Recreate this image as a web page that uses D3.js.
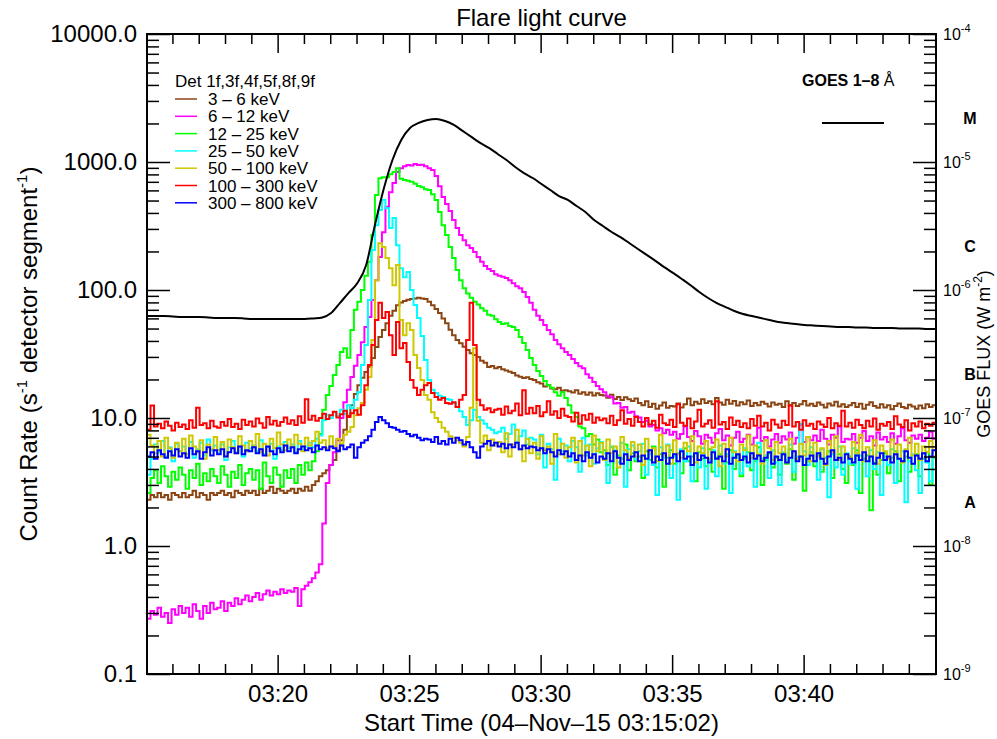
<!DOCTYPE html>
<html>
<head>
<meta charset="utf-8">
<script src="https://cdn.jsdelivr.net/npm/d3@7"></script>
<style>
  body { margin: 0; background: #fff; }
  text { font-family: "Liberation Sans", Arial, Helvetica, sans-serif; fill: #000; }
</style>
</head>
<body>
<svg id="chart" width="997" height="739"></svg>
<script>
// ---- Time base ---------------------------------------------------------
const startTime = "2015-11-04T03:15:02Z";
const spanSeconds = 1800;
const binSeconds = 8;        // count-rate accumulation interval
const goesStepSeconds = 20;  // GOES sample spacing

// ---- Energy bands ------------------------------------------------------
const detectorLabel = "Det 1f,3f,4f,5f,8f,9f";
const bandLabels = ["3 – 6 keV", "6 – 12 keV", "12 – 25 keV", "25 – 50 keV",
                    "50 – 100 keV", "100 – 300 keV", "300 – 800 keV"];
const bandColors = ["#8b4513", "#ff00ff", "#00ff00", "#00ffff",
                    "#cfc800", "#ff0000", "#0000ff"];

// ---- Count rates (s^-1 detector segment^-1), one value per 8 s bin ------
const rate3to6 = [
  2.3,2.5,2.4,2.6,2.4,2.5,2.3,2.6,2.5,2.4, 2.6,2.4,2.5,2.7,2.4,2.6,2.5,2.3,2.6,2.5,
  2.6,2.7,2.5,2.6,2.4,2.7,2.6,2.5,2.7,2.6, 2.7,2.5,2.8,2.6,2.7,2.9,2.6,2.8,2.7,2.6,
  2.7,2.8,2.6,2.8,2.7,2.9,2.7,3.0,3.2,3.5, 3.7,3.9,4.3,4.7,5.6,6.7,8.1,10.4,12.6,15.4,
  18.0,20.6,22.9,25.1,29.4,35.9,42.9,48.7,55.0,62.9, 69,76,80,82,84,85,86,87,86,85,
  81,76,71,66,60,55,49,44.4,40.7,38.4, 36,34,32,31,30,28,27,25,25.5,24.5,
  25,24,23.5,23,22.5,21.5,21,20.5,20.8,20.2, 19.8,19.0,18.6,17.6,18.0,17.0,16.8,17.2,16.3,16.5,
  16.2,15.8,16.5,15.5,15.9,15.2,15.8,15.0,15.6,15.1, 15.0,14.4,15.2,14.1,14.6,13.8,14.5,14.0,13.6,14.2,
  13.1,12.6,13.5,12.2,12.9,11.8,12.5,13.2,12.0,12.4, 12.3,13.0,12.1,12.8,14.2,12.6,13.4,12.9,14.0,13.1,
  13.5,12.8,14.3,13.2,12.7,13.9,12.9,13.6,12.5,13.3, 12.8,13.7,12.4,13.1,12.6,13.4,12.9,12.3,13.2,12.7,
  12.9,12.2,13.5,12.6,13.1,12.4,12.8,13.6,12.5,12.9, 12.4,13.2,12.7,12.1,13.0,12.5,13.4,12.3,12.8,12.2,
  12.6,13.1,12.2,12.9,11.8,12.7,13.3,12.4,12.0,12.8, 12.1,12.6,11.7,12.4,13.0,12.2,11.9,12.7,12.3,11.8,
  12.5,11.9,12.8,12.2,12.6
];
const rate6to12 = [
  0.27,0.31,0.29,0.33,0.28,0.30,0.25,0.32,0.29,0.34, 0.30,0.33,0.28,0.35,0.31,0.27,0.34,0.30,0.36,0.32,
  0.33,0.37,0.31,0.36,0.34,0.39,0.35,0.38,0.41,0.37, 0.40,0.43,0.38,0.42,0.45,0.41,0.44,0.42,0.46,0.43,
  0.45,0.44,0.47,0.34,0.46,0.49,0.52,0.56,0.62,0.72, 1.5,3.1,4.3,5.4,6.7,10.0,13.3,16.6,20.9,25.6,
  31,39,51.5,61.5,83.6,119,181,282,447,580, 684,834,895,928,946,940,963,946,950,928,
  895,866,778,647,533,470,414,352,305,269, 245,224,213,198,181,166,154,146,141,133,
  129,127,124,119,113,107,103,96.5,88,79.4, 70,62.9,58.2,53.2,48.7,45.2,40.7,37.7,35.1,32.8,
  31.0,28.9,26.9,25.4,24.5,22.0,20.6,19.1,17.8,16.8, 15.9,14.8,14.5,13.0,13.1,12.0,12.2,11.0,11.2,10.3,
  10.1,9.3,9.5,8.6,8.8,8.0,8.3,7.6,8.1,7.4, 7.8,6.9,7.5,8.6,7.1,6.6,7.9,7.2,6.3,7.4,
  7.0,6.4,7.6,8.2,6.7,7.3,6.1,7.0,7.8,6.5, 6.9,7.4,6.2,7.0,8.4,6.6,7.1,6.0,6.8,7.5,
  6.4,7.2,6.8,7.7,6.3,7.0,8.9,6.5,7.1,6.7, 7.3,6.6,8.1,6.9,6.2,7.4,7.0,8.6,6.5,6.9,
  6.8,7.5,6.4,7.0,7.9,6.6,7.2,6.1,7.7,6.8, 7.1,6.5,7.6,6.3,7.2,8.3,6.7,6.4,7.3,6.9,
  7.4,6.6,7.0,7.8,6.9
];
const rate12to25 = [
  2.6,3.4,3.9,3.1,4.2,3.5,2.9,3.8,3.3,4.1, 3.6,2.8,3.9,3.4,4.4,3.0,3.7,3.2,4.0,3.5,
  3.1,4.2,3.6,2.9,3.8,3.4,4.3,3.0,3.7,4.0, 3.3,3.9,2.8,4.5,3.5,3.1,4.1,3.6,2.9,3.9,
  3.4,4.0,3.1,4.3,3.6,4.5,3.9,4.6,5.5,7.5, 11.6,15.1,17.8,21.7,25.9,32.8,35.1,29.5,48.7,70,
  81,100,129,166,269,552,745,760,760,802, 834,895,740,725,715,700,675,650,635,612,
  603,560,504,407,321,269,217,178,143,119, 103,94,87,81,77,72,69,64,63,59,
  56.3,54.3,55.1,52.4,51.5,48.7,42.9,38.5,34.0,29.4, 25.9,23.3,21.3,19.5,18.0,17.2,15.9,14.9,15.9,14.3,
  12.6,11.0,10.2,8.6,8.3,7.2,7.5,6.2,6.8,5.4, 5.6,4.3,5.9,3.6,5.1,4.8,6.2,3.9,5.3,4.6,
  5.0,3.4,5.5,4.7,6.0,4.1,5.2,2.9,4.9,5.6, 4.4,5.3,3.7,5.8,4.6,5.0,3.2,5.4,4.8,4.2,
  5.7,3.8,4.9,5.2,2.8,4.5,5.6,4.0,5.1,3.5, 4.8,5.4,3.9,4.6,5.9,3.0,4.7,5.3,4.1,4.9,
  3.6,5.2,4.4,5.7,3.3,4.8,5.0,2.7,4.6,5.4, 4.2,5.1,3.8,4.9,5.5,3.4,4.7,5.2,4.0,3.1,
  5.0,4.3,5.6,2.6,4.8,5.1,1.9,4.5,3.6,4.7, 5.3,3.7,4.9,5.5,3.2,4.6,5.0,3.8,4.4,5.2,
  3.5,4.8,5.4,3.0,4.9
];
const rate25to50 = [
  3.6,4.8,6.2,5.4,6.6,5.0,5.9,4.6,6.3,5.5, 6.0,5.2,6.5,4.9,5.7,6.4,5.1,6.8,5.6,6.1,
  5.3,6.2,4.7,5.9,6.6,5.4,6.0,5.0,6.4,5.8, 6.1,5.5,6.7,5.2,5.9,6.3,4.8,6.0,5.6,6.5,
  5.8,6.2,5.4,6.6,5.7,6.0,6.4,5.9,6.9,7.3, 9.6,10.6,10.0,11.1,10.4,11.6,10.8,12.6,11.9,13.9,
  15.9,25.9,37.2,83.6,205,321,421,504,436,305, 365,224,148,126,138,100,76.4,60.4,43.7,28.4,
  19.8,16.6,15.7,14.9,14.6,14.1,13.9,13.1,12.2,11.3, 10.2,8.8,9.6,11.6,10.2,9.6,9.0,8.4,8.1,7.6,
  7.8,8.4,6.9,7.5,8.9,6.5,7.2,8.0,6.2,7.0, 6.8,5.2,7.4,4.1,6.3,5.7,3.3,6.9,5.5,6.1,
  4.6,6.6,5.9,3.8,7.0,5.1,6.2,4.4,5.8,6.5, 5.3,3.1,6.0,5.6,4.5,6.4,2.9,5.7,6.1,4.8,
  5.5,6.3,3.6,5.2,4.3,2.5,5.9,4.9,6.2,3.4, 5.0,2.3,5.7,4.6,6.0,3.2,5.3,4.1,5.8,2.8,
  4.7,5.6,3.5,6.1,4.4,5.2,2.6,5.5,4.9,3.7, 5.8,4.2,5.3,2.9,6.4,4.8,5.1,3.4,5.6,4.5,
  3.0,5.4,4.7,6.2,3.8,5.0,9.0,5.5,4.3,5.9, 4.6,3.3,5.7,4.9,2.4,5.2,4.1,6.0,3.6,5.3,
  4.4,5.8,2.8,5.1,4.6,3.5,5.6,4.0,5.4,2.5, 5.0,4.3,5.7,3.1,4.8,5.5,2.2,4.6,5.2,3.9,
  2.6,5.3,4.5,3.2,5.6
];
const rate50to100 = [
  7.4,6.1,5.3,6.6,5.0,7.0,5.8,4.9,6.4,5.5, 6.9,5.2,7.3,6.0,5.4,6.7,4.8,6.2,5.7,7.1,
  5.6,6.5,5.0,6.8,5.9,5.3,7.2,6.1,5.5,6.6, 6.0,7.5,5.4,6.3,5.1,6.9,5.8,7.7,6.2,5.6,
  6.8,5.9,7.4,6.3,5.5,7.0,6.1,6.6,7.8,6.4, 6.7,5.8,7.2,6.0,6.9,6.3,7.4,7.8,8.5,10.5,
  11.9,13.1,16.6,20.9,40.7,119,232,217,178,148, 109,157,58.2,44.4,55.1,48.7,31.0,24.6,19.8,15.1,
  13.9,11.1,10.0,9.3,8.4,7.8,7.2,7.0,6.7,6.4, 6.0,7.1,12,35,9.5,6.4,7.3,5.6,6.8,6.1,
  6.5,5.4,7.6,5.0,6.2,8.1,5.7,4.6,6.9,5.3, 6.4,4.8,7.2,5.6,6.0,4.4,7.5,5.2,6.3,4.9,
  5.9,7.0,4.5,6.6,5.1,6.1,4.2,7.3,5.5,6.4, 4.7,6.8,5.3,6.0,4.1,7.1,5.6,4.8,6.5,5.0,
  6.2,4.3,6.9,5.4,5.8,4.6,7.4,5.1,6.1,4.4, 6.7,5.2,4.9,6.4,5.5,7.2,4.5,6.0,5.3,6.6,
  4.8,5.9,6.8,4.2,6.3,5.0,7.0,5.4,4.6,6.2, 5.6,7.3,4.9,6.1,5.2,4.4,6.7,5.8,4.7,6.5,
  5.3,6.0,4.5,6.9,5.5,4.8,6.3,5.1,7.1,4.6, 6.4,5.0,5.8,4.3,6.6,5.4,7.2,4.7,6.0,5.2,
  4.9,6.5,5.3,7.4,4.6,5.9,5.0,6.7,4.4,6.1, 5.5,4.8,6.8,5.2,6.2,4.5,5.7,7.0,5.1,6.3,
  4.7,6.0,5.4,6.6,5.0
];
const rate100to300 = [
  8.1,12.5,8.6,9.0,8.3,9.4,8.7,8.0,9.2,8.5, 8.9,8.2,9.6,8.4,12.0,8.8,9.1,8.3,9.5,8.6,
  8.4,9.3,8.7,9.8,8.5,9.0,8.2,9.7,8.8,9.4, 8.6,9.9,9.1,8.4,10.2,8.9,9.5,8.7,9.3,10.1,
  9.0,9.6,8.8,10.3,9.2,14.0,9.7,10.4,9.5,10.0, 10.8,9.8,10.5,11.2,10.1,10.7,11.4,10.2,10.9,11.5,
  10.6,12.6,18.0,25.9,37.2,58.2,79.4,60.4,67.3,44.4, 31.0,56.3,35.1,38.5,27.4,19.8,17.2,15.1,16.6,18.0,
  18.8,15.7,14.6,13.9,14.3,13.1,12.9,13.3,12.2,13.9, 15.1,40.7,79.4,37.2,13.9,12.6,11.6,11.9,11.1,11.6,
  11.8,10.6,12.3,10.9,11.4,13.0,10.5,16.5,10.8,12.0, 10.9,12.4,10.3,11.1,13.5,10.6,11.3,10.0,11.8,10.4,
  10.2,9.4,11.0,9.0,10.5,9.7,10.8,9.2,10.1,9.6, 9.9,9.1,10.4,8.8,9.6,11.5,9.0,9.8,8.7,10.2,
  9.3,8.6,10.0,8.9,9.5,8.4,10.6,9.1,8.8,9.7, 8.5,12.8,9.2,8.7,9.9,8.3,9.4,11.6,8.6,9.0,
  9.6,8.4,13.5,8.9,9.3,8.2,10.1,8.8,9.5,8.5, 9.1,8.3,9.8,8.7,10.4,8.6,9.2,8.0,9.7,8.9,
  8.4,9.5,8.8,12.5,8.6,9.3,8.1,9.6,8.7,9.0, 8.2,9.4,8.9,8.5,10.0,8.3,9.1,8.7,11.4,8.6,
  9.2,8.4,9.7,8.8,8.3,9.5,8.6,9.9,8.1,9.0, 8.7,9.3,8.2,10.3,8.9,8.5,9.6,8.0,9.1,8.6,
  9.4,8.3,9.0,8.7,9.2
];
const rate300to800 = [
  5.0,5.4,4.8,5.6,5.2,4.9,5.5,5.1,5.7,5.0, 5.3,4.9,5.8,5.2,5.5,4.8,5.4,5.9,5.1,5.6,
  5.2,5.7,5.0,5.4,5.8,5.3,6.0,5.2,5.6,5.5, 5.9,5.3,5.7,5.1,6.0,5.5,5.2,5.8,5.4,6.1,
  5.5,5.9,5.3,5.7,6.0,5.6,5.8,5.4,6.1,5.7, 5.9,5.6,6.0,5.8,5.5,6.1,5.7,5.9,6.2,4.9,
  5.9,6.4,6.7,7.2,8.1,9.3,10.2,9.6,9.1,8.5, 8.4,8.1,7.8,7.9,7.5,7.2,7.4,7.0,6.7,6.9,
  6.8,6.5,7.1,6.3,6.6,6.2,6.9,6.4,7.0,6.7, 6.2,6.5,5.9,5.4,4.9,6.0,6.3,6.6,6.1,6.4,
  6.0,6.3,5.8,6.2,5.9,6.4,5.7,6.1,5.8,6.0, 5.9,5.6,5.8,5.3,5.7,5.4,5.0,5.6,5.2,5.5,
  5.0,5.3,4.7,5.1,4.6,5.4,4.9,5.2,4.5,5.0, 4.8,5.3,4.6,5.5,4.9,4.4,5.2,4.7,5.0,5.4,
  4.6,5.1,4.8,5.6,4.5,5.0,4.7,5.3,4.4,4.9, 5.2,4.6,5.5,4.8,5.0,4.3,5.3,4.7,5.1,4.9,
  4.5,5.4,4.8,5.0,4.6,5.7,4.4,4.9,5.2,4.7, 5.0,4.5,5.3,4.8,5.1,4.6,4.9,5.4,4.4,5.0,
  4.7,5.2,4.5,4.9,5.5,4.6,5.0,4.3,4.8,5.1, 4.6,5.3,4.8,4.4,5.0,5.6,4.7,4.9,4.5,5.2,
  4.8,4.5,5.1,4.7,5.4,4.6,5.0,4.4,4.9,5.3, 4.7,5.0,4.5,5.2,4.8,4.6,5.5,4.9,4.4,5.1,
  4.8,5.3,4.6,5.0,5.6
];
const bandRates = [rate3to6, rate6to12, rate12to25, rate25to50,
                   rate50to100, rate100to300, rate300to800];

// ---- GOES 1-8 Å flux (W m^-2), one sample per 20 s ----------------------
const goesLabel = "GOES 1–8 ";
const goesFlux = [
  6.26e-7,6.26e-7,6.26e-7,6.2e-7,6.15e-7,6.15e-7,6.15e-7,6.1e-7,6.04e-7,6.04e-7,
  6.04e-7,6.0e-7,5.93e-7,5.93e-7,5.93e-7,5.93e-7,5.93e-7,5.93e-7,5.93e-7,6.0e-7,
  6.1e-7,6.6e-7,7.9e-7,9.5e-7,1.135e-6,1.567e-6,3.22e-6,6.15e-6,1.037e-5,1.486e-5,
  1.844e-5,2.02e-5,2.13e-5,2.17e-5,2.09e-5,1.95e-5,1.75e-5,1.57e-5,1.41e-5,1.29e-5,
  1.155e-5,1.037e-5,9.14e-6,8.20e-6,7.50e-6,6.73e-6,6.04e-6,5.42e-6,5.05e-6,4.53e-6,
  4.07e-6,3.52e-6,3.16e-6,2.84e-6,2.59e-6,2.33e-6,2.09e-6,1.88e-6,1.69e-6,1.51e-6,
  1.36e-6,1.22e-6,1.09e-6,9.64e-7,8.66e-7,7.91e-7,7.36e-7,6.86e-7,6.49e-7,6.26e-7,
  6.04e-7,5.83e-7,5.62e-7,5.52e-7,5.42e-7,5.33e-7,5.28e-7,5.23e-7,5.19e-7,5.14e-7,
  5.14e-7,5.10e-7,5.10e-7,5.05e-7,5.05e-7,5.05e-7,5.00e-7,5.00e-7,5.00e-7,4.96e-7,4.96e-7
];

// ---- Axis ticks ---------------------------------------------------------
const countTicks = [0.1, 1, 10, 100, 1000, 10000];
const fluxTicks = [1e-9, 1e-8, 1e-7, 1e-6, 1e-5, 1e-4];
const fluxExponents = ["-9", "-8", "-7", "-6", "-5", "-4"];
const goesClasses = ["A", "B", "C", "M"];
const goesClassFloor = [1e-8, 1e-7, 1e-6, 1e-5];

// ---- Layout -------------------------------------------------------------
const svg = d3.select("#chart");
const plot = { left: 147, right: 936, top: 34, bottom: 674 };
const mainFont = 24;

const t0 = new Date(startTime);
const t1 = d3.utcSecond.offset(t0, spanSeconds);

const x = d3.scaleUtc().domain([t0, t1]).range([plot.left, plot.right]);
const yRate = d3.scaleLog().domain([0.1, 10000]).range([plot.bottom, plot.top]);
const yFlux = d3.scaleLog().domain([1e-9, 1e-4]).range([plot.bottom, plot.top]);

svg.append("rect").attr("width", 997).attr("height", 739).attr("fill", "#fff");

svg.append("defs").append("clipPath").attr("id", "plot-clip")
  .append("rect")
  .attr("x", plot.left).attr("y", plot.top)
  .attr("width", plot.right - plot.left).attr("height", plot.bottom - plot.top);

// ---- Count-rate histograms ---------------------------------------------
const stepLine = d3.line()
  .x(d => x(d.t))
  .y(d => yRate(d.v))
  .curve(d3.curveStepAfter);

const curves = svg.append("g").attr("clip-path", "url(#plot-clip)");

bandRates.forEach((rates, k) => {
  const pts = rates.map((v, i) => ({ t: d3.utcSecond.offset(t0, i * binSeconds), v }));
  pts.push({ t: d3.utcSecond.offset(t0, rates.length * binSeconds), v: rates[rates.length - 1] });
  curves.append("path")
    .datum(pts)
    .attr("d", stepLine)
    .attr("fill", "none")
    .attr("stroke", bandColors[k])
    .attr("stroke-width", 2)
    .attr("stroke-linejoin", "miter");
});

// ---- GOES flux -----------------------------------------------------------
const goesLine = d3.line()
  .x(d => x(d.t))
  .y(d => yFlux(d.f))
  .curve(d3.curveMonotoneX);

curves.append("path")
  .datum(goesFlux.map((f, i) => ({ t: d3.utcSecond.offset(t0, i * goesStepSeconds), f })))
  .attr("d", goesLine)
  .attr("fill", "none")
  .attr("stroke", "#000")
  .attr("stroke-width", 2);

// ---- Axes ------------------------------------------------------------------
const lastMinute = d3.utcMinute.floor(t1);
const majorTimes = d3.utcMinute.every(5).range(t0, lastMinute);
const minorTimes = d3.utcMinute.every(1).range(t0, lastMinute)
  .filter(d => d.getUTCMinutes() % 5 !== 0);

function styleAxis(g) {
  g.select(".domain").remove();
  g.selectAll(".tick line").attr("stroke", "#000").attr("stroke-width", 1.5);
  g.selectAll(".tick text").style("font-size", mainFont + "px")
    .style("font-family", "'Liberation Sans', Arial, sans-serif").attr("fill", "#000");
}

// bottom
svg.append("g").attr("transform", `translate(0,${plot.bottom})`)
  .call(d3.axisBottom(x).tickValues(majorTimes).tickSize(-19).tickPadding(11)
        .tickFormat(d3.utcFormat("%H:%M")))
  .call(styleAxis);
svg.append("g").attr("transform", `translate(0,${plot.bottom})`)
  .call(d3.axisBottom(x).tickValues(minorTimes).tickSize(-10).tickFormat(""))
  .call(styleAxis);
// top
svg.append("g").attr("transform", `translate(0,${plot.top})`)
  .call(d3.axisTop(x).tickValues(majorTimes).tickSize(-19).tickFormat(""))
  .call(styleAxis);
svg.append("g").attr("transform", `translate(0,${plot.top})`)
  .call(d3.axisTop(x).tickValues(minorTimes).tickSize(-10).tickFormat(""))
  .call(styleAxis);

// left (count rate)
const rateMinor = yRate.ticks().filter(v => !countTicks.some(c => Math.abs(c - v) < 1e-9 * c + 1e-12));
svg.append("g").attr("transform", `translate(${plot.left},0)`)
  .call(d3.axisLeft(yRate).tickValues(countTicks).tickSize(-23).tickPadding(10)
        .tickFormat(d3.format(".1f")))
  .call(styleAxis);
svg.append("g").attr("transform", `translate(${plot.left},0)`)
  .call(d3.axisLeft(yRate).tickValues(rateMinor).tickSize(-12).tickFormat(""))
  .call(styleAxis);

// right (GOES flux)
const fluxMinor = yFlux.ticks().filter(v => !fluxTicks.some(c => Math.abs(c - v) < 1e-6 * c));
svg.append("g").attr("transform", `translate(${plot.right},0)`)
  .call(d3.axisRight(yFlux).tickValues(fluxTicks).tickSize(-23).tickFormat(""))
  .call(styleAxis);
svg.append("g").attr("transform", `translate(${plot.right},0)`)
  .call(d3.axisRight(yFlux).tickValues(fluxMinor).tickSize(-12).tickFormat(""))
  .call(styleAxis);

fluxTicks.forEach((f, i) => {
  const t = svg.append("text")
    .attr("x", plot.right + 7).attr("y", yFlux(f) + 6)
    .style("font-size", "16px");
  t.append("tspan").text("10");
  t.append("tspan").attr("dy", -8).style("font-size", "11px").text(fluxExponents[i]);
});

// GOES class letters
goesClasses.forEach((c, i) => {
  svg.append("text")
    .attr("x", 970).attr("y", yFlux(goesClassFloor[i] * 2.2) + 6)
    .attr("text-anchor", "middle")
    .style("font-size", "16px").style("font-weight", "bold")
    .text(c);
});

// frame
svg.append("rect")
  .attr("x", plot.left).attr("y", plot.top)
  .attr("width", plot.right - plot.left).attr("height", plot.bottom - plot.top)
  .attr("fill", "none").attr("stroke", "#000").attr("stroke-width", 2);

// ---- Titles ----------------------------------------------------------------
svg.append("text")
  .attr("x", (plot.left + plot.right) / 2).attr("y", 26)
  .attr("text-anchor", "middle")
  .style("font-size", mainFont + "px")
  .text("Flare light curve");

svg.append("text")
  .attr("x", (plot.left + plot.right) / 2).attr("y", 731)
  .attr("text-anchor", "middle")
  .style("font-size", mainFont + "px")
  .text("Start Time (04–Nov–15 03:15:02)");

const yTitle = svg.append("text")
  .attr("transform", `translate(37,${(plot.top + plot.bottom) / 2}) rotate(-90)`)
  .attr("text-anchor", "middle")
  .style("font-size", mainFont + "px");
yTitle.append("tspan").text("Count Rate (s");
yTitle.append("tspan").attr("dy", -10).style("font-size", "15px").text("-1");
yTitle.append("tspan").attr("dy", 10).text(" detector segment");
yTitle.append("tspan").attr("dy", -10).style("font-size", "15px").text("-1");
yTitle.append("tspan").attr("dy", 10).text(")");

const fluxTitle = svg.append("text")
  .attr("transform", `translate(990,${(plot.top + plot.bottom) / 2}) rotate(-90)`)
  .attr("text-anchor", "middle")
  .style("font-size", "18px");
fluxTitle.append("tspan").text("GOES FLUX (W m");
fluxTitle.append("tspan").attr("dy", -8).style("font-size", "12px").text("-2");
fluxTitle.append("tspan").attr("dy", 8).text(")");

// ---- Legends ---------------------------------------------------------------
svg.append("text").attr("x", 175).attr("y", 87)
  .style("font-size", "17px").text(detectorLabel);

bandLabels.forEach((lab, i) => {
  const yy = 99 + i * 17.3;
  svg.append("line")
    .attr("x1", 175).attr("x2", 197).attr("y1", yy).attr("y2", yy)
    .attr("stroke", bandColors[i]).attr("stroke-width", 1.5);
  svg.append("text").attr("x", 208).attr("y", yy + 6)
    .style("font-size", "17px").text(lab);
});

const goesText = svg.append("text").attr("x", 802).attr("y", 86).style("font-size", "16px");
goesText.append("tspan").style("font-weight", "bold").text(goesLabel);
goesText.append("tspan").text("Å");
svg.append("line")
  .attr("x1", 822).attr("x2", 884).attr("y1", 123).attr("y2", 123)
  .attr("stroke", "#000").attr("stroke-width", 2);
</script>
</body>
</html>
